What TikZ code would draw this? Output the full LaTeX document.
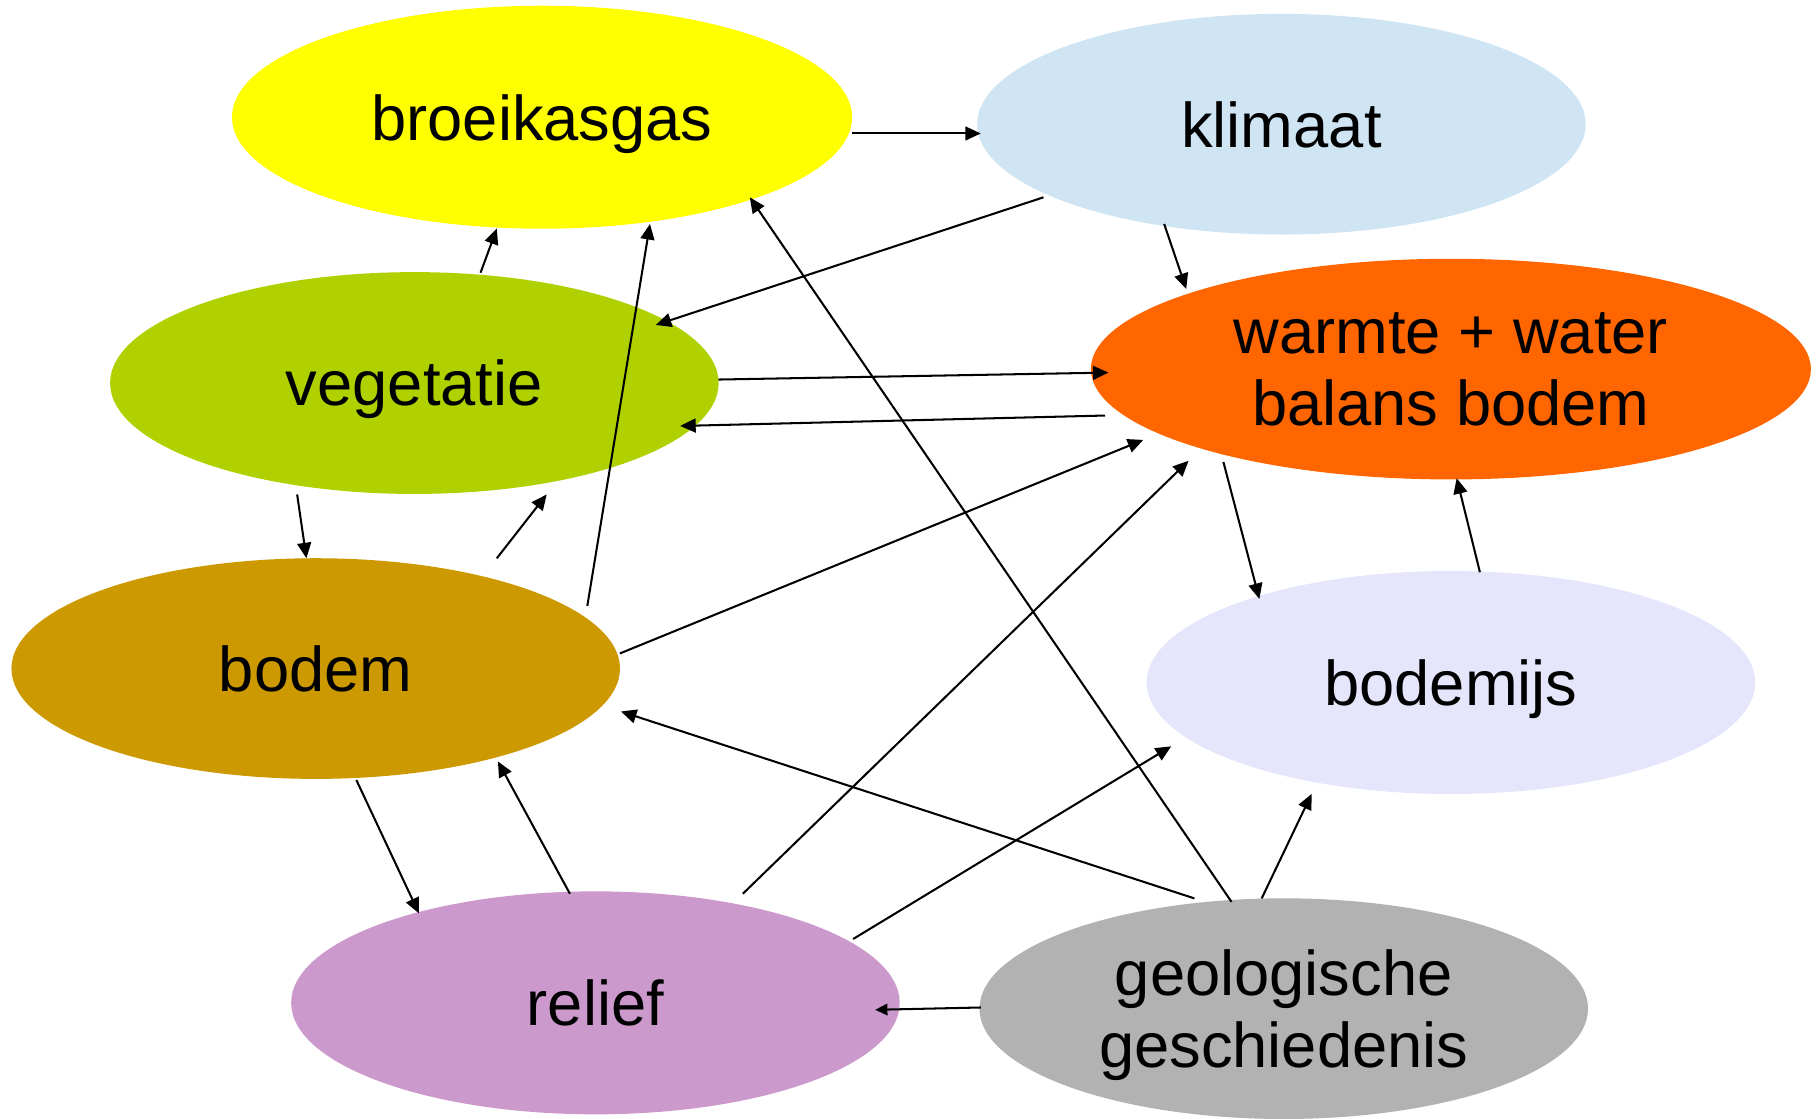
\documentclass[tikz,border=0pt]{standalone}
\usepackage{fontspec}
\setmainfont{Liberation Sans}
\usetikzlibrary{shapes.geometric,arrows.meta}
\definecolor{cB}{HTML}{FFFF00}
\definecolor{cK}{HTML}{CFE5F3}
\definecolor{cV}{HTML}{B0D000}
\definecolor{cW}{HTML}{FF6600}
\definecolor{cBo}{HTML}{CC9900}
\definecolor{cBi}{HTML}{E5E5FB}
\definecolor{cR}{HTML}{CC99CC}
\definecolor{cG}{HTML}{B2B2B2}
\begin{document}
\begin{tikzpicture}[x=0.01cm,y=-0.01cm,
  blob/.style={ellipse,inner sep=0pt,minimum width=5.24cm,minimum height=1.91cm,
    align=center,text depth=0pt,font=\fontsize{15.5}{17.6}\selectfont},
  conn/.style={line width=0.5pt,-{Triangle[length=3.8pt,width=3.4pt]}}]
\useasboundingbox (0,0) rectangle (1568,964);
\node[blob,fill=cB,minimum width=5.34cm,minimum height=1.92cm] (B) at (467,101) {broeikasgas};
\node[blob,fill=cK,minimum height=1.9cm] (K) at (1104,107) {klimaat};
\node[blob,fill=cV] (V) at (357,330) {vegetatie};
\node[blob,fill=cW,minimum width=6.2cm,minimum height=1.9cm,text depth=-1.6pt] (W) at (1250,318) {warmte + water\\balans bodem};
\node[blob,fill=cBo,minimum height=1.9cm] (Bo) at (272,576) {bodem};
\node[blob,fill=cBi,minimum height=1.92cm] (Bi) at (1250,588) {bodemijs};
\node[blob,fill=cR,minimum height=1.92cm] (R) at (513,864) {relief};
\node[blob,fill=cG,minimum height=1.9cm,text depth=-1.6pt] (G) at (1106,869) {geologische\\geschiedenis};

\draw[conn] ([shift={(267,14)}]B.center) -- ([shift={(-259,8)}]K.center);
\draw[conn] ([shift={(-205,63)}]K.center) -- ([shift={(208,-50)}]V.center);
\draw[conn] ([shift={(-101,86)}]K.center) -- ([shift={(-228,-69)}]W.center);
\draw[conn] ([shift={(57,-95)}]V.center) -- ([shift={(-39,96)}]B.center);
\draw[conn] ([shift={(262,-3)}]V.center) -- ([shift={(-295,3)}]W.center);
\draw[conn] ([shift={(-298,40)}]W.center) -- ([shift={(229,37)}]V.center);
\draw[conn] ([shift={(-101,96)}]V.center) -- ([shift={(-8,-95)}]Bo.center);
\draw[conn] ([shift={(156,-95)}]Bo.center) -- ([shift={(114,96)}]V.center);
\draw[conn] ([shift={(234,-54)}]Bo.center) -- ([shift={(93,92)}]B.center);
\draw[conn] ([shift={(262,-13)}]Bo.center) -- ([shift={(-265,61)}]W.center);
\draw[conn] ([shift={(-196,80)}]W.center) -- ([shift={(-165,-72)}]Bi.center);
\draw[conn] ([shift={(25,-95)}]Bi.center) -- ([shift={(5,94)}]W.center);
\draw[conn] ([shift={(35,96)}]Bo.center) -- ([shift={(-152,-77)}]R.center);
\draw[conn] ([shift={(-22,-94)}]R.center) -- ([shift={(157,80)}]Bo.center);
\draw[conn] ([shift={(127,-94)}]R.center) -- ([shift={(-226,79)}]W.center);
\draw[conn] ([shift={(222,-55)}]R.center) -- ([shift={(-241,55)}]Bi.center);
\draw[conn,-{Triangle[length=3pt,width=2.8pt]}] ([shift={(-261,-1)}]G.center) -- ([shift={(241,6)}]R.center);
\draw[conn] ([shift={(-45,-92)}]G.center) -- ([shift={(179,69)}]B.center);
\draw[conn] ([shift={(-77,-95)}]G.center) -- ([shift={(263,37)}]Bo.center);
\draw[conn] ([shift={(-19,-95)}]G.center) -- ([shift={(-120,96)}]Bi.center);
\end{tikzpicture}
\end{document}
